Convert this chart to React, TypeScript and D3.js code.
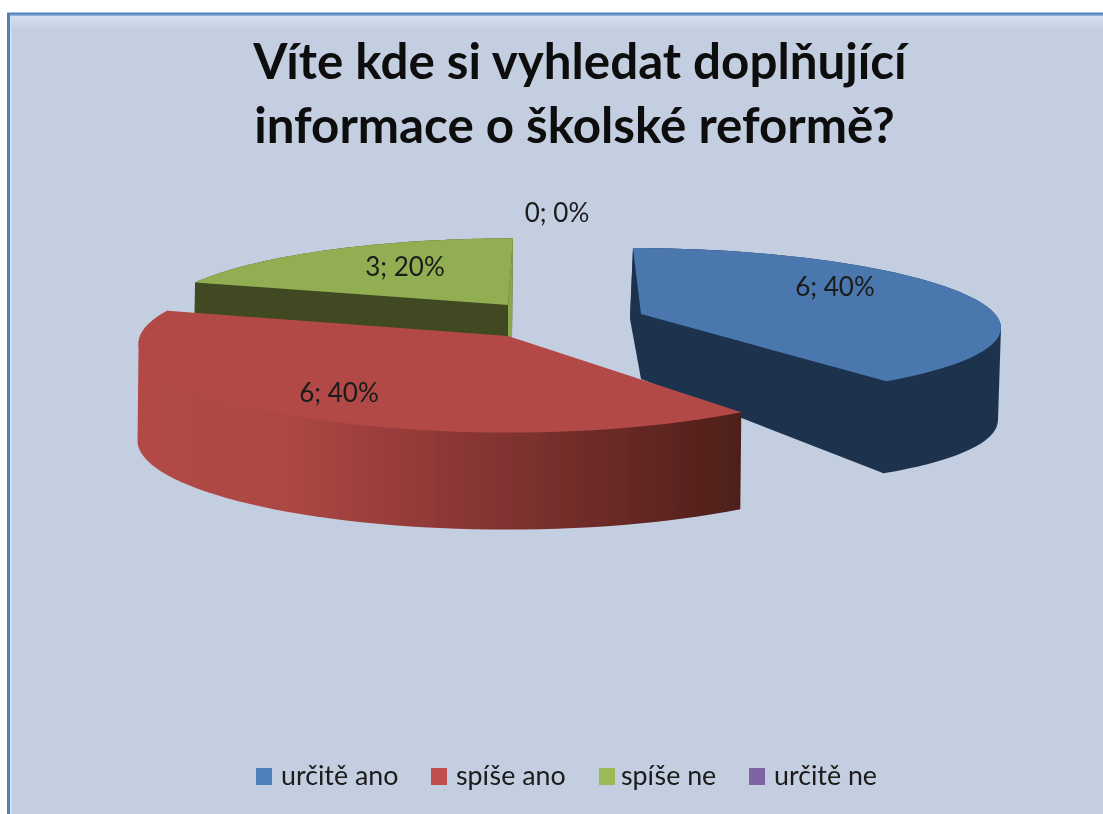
import React from "react";
import * as d3 from "d3";

const categories = ["určitě ano", "spíše ano", "spíše ne", "určitě ne"];
const seriesValues = [6, 6, 3, 0];
const legendColors = ["#4f81bd", "#c0504d", "#9bbb59", "#8064a2"];
const topColors = ["#4877ae", "#b24a46", "#91ae52", "#7a5f9a"];
const sideColors = ["#1d334e", "#b24a46", "#3f4a21", "#3a2c4a"];
const titleLines = ["Víte kde si vyhledat doplňující", "informace o školské reformě?"];
const titleCentres = [580, 574.5];
const legendSwatchX = [256, 431, 599, 749];
const legendTextX = [281, 456, 621, 774];

// projection of each exploded slice: apex, radii, perspective, shear, extrusion
const sliceLayout = [
  { cx: 641, cy: 314, a: 354, b: 74.5, px: -0.16, py: -0.13, k: 8, dx: -3, h0: 65, hs: 25.6, hv: 9.7, hq: -9.9, lx: 835, ly: 296, startFace: "#1d334e", endFace: "#1d334e" },
  { cx: 508, cy: 336, a: 368, b: 85, px: -0.09, py: -0.12, k: 0, dx: -1, h0: 96, hs: 1, hv: 0, hq: 0, lx: 339, ly: 402, startFace: "none", endFace: "none" },
  { cx: 508, cy: 305, a: 345, b: 76, px: -0.14, py: -0.14, k: -5, dx: -1, h0: 32, hs: 68, hv: 0, hq: 0, lx: 405, ly: 276, startFace: "#3f4a21", endFace: "#8aa74e" },
  { cx: 557, cy: 230, a: 0, b: 0, px: 0, py: 0, k: 0, dx: 0, h0: 0, hs: 0, hv: 0, hq: 0, lx: 557, ly: 222, startFace: "none", endFace: "none" },
];

const W = 1103;
const H = 814;

type L = (typeof sliceLayout)[number];
const top = (l: L, t: number, r = 1): [number, number] => {
  const u = Math.sin(t) * r;
  const v = -Math.cos(t) * r;
  return [l.cx + (l.a * u) / (1 + l.px * v) + l.k * v, l.cy + (l.b * v) / (1 + l.py * v)];
};
const bottom = (l: L, t: number, r = 1): [number, number] => {
  const [x, y] = top(l, t, r);
  const v = -Math.cos(t);
  return [x + r * l.dx, y + l.h0 + r * (l.hs + l.hv * v + l.hq * v * v)];
};
const line = d3.line();

export default function App() {
  const arcs = d3.pie<number>().sort(null)(seriesValues);
  const total = d3.sum(seriesValues);
  const pct = d3.format(".0%");
  const drawOrder = [2, 0, 1];
  const gradX = d3.scaleLinear().domain([0, 1]).range([140, 742]);

  return (
    <svg width={W} height={H} style={{ position: "absolute", left: 0, top: 0 }}>
      <defs>
        <linearGradient id="redSide" gradientUnits="userSpaceOnUse" x1={gradX(0)} x2={gradX(1)} y1={0} y2={0}>
          <stop offset="0" stopColor="#b24a46" />
          <stop offset="0.25" stopColor="#ac4743" />
          <stop offset="0.6" stopColor="#823331" />
          <stop offset="1" stopColor="#4e1f1a" />
        </linearGradient>
        <linearGradient id="sheen" x1="0" x2="0" y1="0" y2="1">
          <stop offset="0" stopColor="#d4dff0" />
          <stop offset="1" stopColor="#c3cfe0" />
        </linearGradient>
        <filter id="soft" x="-5%" y="-5%" width="110%" height="110%">
          <feGaussianBlur stdDeviation="0.6" />
        </filter>
      </defs>
      <rect width={W} height={H} fill="#ffffff" />
      <rect x={7} y={12.5} width={W - 7} height={H - 12.5} fill="#4f81bd" />
      <rect x={10} y={14.5} width={W - 10} height={H - 14.5} fill="#8fb0d8" />
      <rect x={10} y={16} width={W - 10} height={H - 16} fill="#d4dff0" />
      <rect x={11.5} y={16} width={W - 11.5} height={H - 16} fill="#c3cfe0" />
      <rect x={11.5} y={16} width={W - 11.5} height={14} fill="url(#sheen)" />

      <g filter="url(#soft)">
        {drawOrder.map((i) => {
          const d = arcs[i];
          const l = sliceLayout[i];
          const ts = d3.range(0, 61).map((n) => d.startAngle + ((d.endAngle - d.startAngle) * n) / 60);
          const topPts = ts.map((t) => top(l, t));
          const botPts = ts.map((t) => bottom(l, t));
          const apexT = top(l, 0, 0);
          const apexB = bottom(l, 0, 0);
          const band = d3.polygonHull([...topPts, ...botPts]) as [number, number][];
          const face = (t: number): [number, number][] => [apexT, top(l, t), bottom(l, t), apexB];
          const sideFill = i === 1 ? "url(#redSide)" : sideColors[i];
          return (
            <g key={categories[i]}>
              <path d={line(band) + "Z"} fill={sideFill} />
              <path d={line(face(d.endAngle)) + "Z"} fill={l.endFace} />
              <path d={line(face(d.startAngle)) + "Z"} fill={l.startFace} />
              <path d={line([apexT, ...topPts]) + "Z"} fill={topColors[i]} />
            </g>
          );
        })}
      </g>

      <g fontFamily="Lato, sans-serif" fill="#111" filter="url(#soft)">
        {titleLines.map((t, i) => (
          <text key={t} x={titleCentres[i]} y={79 + i * 63.5} fontSize={49.3} fontWeight={700} textAnchor="middle">
            {t}
          </text>
        ))}
        {arcs.map((d, i) => (
          <text key={i} x={sliceLayout[i].lx} y={sliceLayout[i].ly} fontSize={26} textAnchor="middle" fill="#1a1a1a">
            {`${d.data}; ${pct(d.data / total)}`}
          </text>
        ))}
        {categories.map((c, i) => (
          <g key={c}>
            <rect x={legendSwatchX[i]} y={768} width={16} height={17} fill={legendColors[i]} />
            <text x={legendTextX[i]} y={785} fontSize={26.8} fill="#1a1a1a">
              {c}
            </text>
          </g>
        ))}
      </g>
    </svg>
  );
}
